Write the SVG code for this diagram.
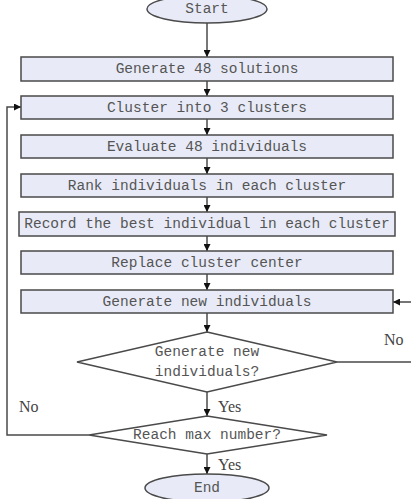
<svg xmlns="http://www.w3.org/2000/svg" width="411" height="499" viewBox="0 0 411 499">
<defs>
<style>
.n{fill:#e8ebf7;stroke:#4a4a4a;stroke-width:1.5}
.t{font-family:"Liberation Mono",monospace;font-size:14.5px;fill:#555;text-anchor:middle;dominant-baseline:central}
.l{font-family:"Liberation Serif",serif;font-size:16px;fill:#444;dominant-baseline:central}
.c{fill:none;stroke:#4a4a4a;stroke-width:1.5}
</style>
<marker id="a" viewBox="0 0 10 10" refX="10" refY="5" markerWidth="7" markerHeight="7" markerUnits="userSpaceOnUse" orient="auto"><path d="M0,0L10,5L0,10z" fill="#111"/></marker>
</defs>
<g id="connectors">
<path class="c" d="M207,23V57" marker-end="url(#a)"/>
<path class="c" d="M207,81V96" marker-end="url(#a)"/>
<path class="c" d="M207,119V135" marker-end="url(#a)"/>
<path class="c" d="M207,158V174" marker-end="url(#a)"/>
<path class="c" d="M207,197V212" marker-end="url(#a)"/>
<path class="c" d="M207,236V251" marker-end="url(#a)"/>
<path class="c" d="M207,274V290" marker-end="url(#a)"/>
<path class="c" d="M207,313V332" marker-end="url(#a)"/>
<path class="c" d="M207,392V416" marker-end="url(#a)"/>
<path class="c" d="M207,454V474" marker-end="url(#a)"/>
<path class="c" d="M89,435H7V107H21" marker-end="url(#a)"/>
<path class="c" d="M337,362H420V302H393" marker-end="url(#a)"/>
</g>
<g id="start"><ellipse class="n" cx="207" cy="9" rx="60" ry="14"/><text class="t" x="207" y="9">Start</text></g>
<g id="gen48"><rect class="n" x="21" y="57" width="372" height="24"/><text class="t" x="207" y="69">Generate 48 solutions</text></g>
<g id="cluster"><rect class="n" x="21" y="96" width="372" height="23"/><text class="t" x="207" y="107.5">Cluster into 3 clusters</text></g>
<g id="evaluate"><rect class="n" x="21" y="135" width="372" height="23"/><text class="t" x="207" y="146.5">Evaluate 48 individuals</text></g>
<g id="rank"><rect class="n" x="21" y="174" width="372" height="23"/><text class="t" x="207" y="185.5">Rank individuals in each cluster</text></g>
<g id="record"><rect class="n" x="19" y="212" width="376" height="24"/><text class="t" x="207" y="224">Record the best individual in each cluster</text></g>
<g id="replace"><rect class="n" x="21" y="251" width="372" height="23"/><text class="t" x="207" y="262.5">Replace cluster center</text></g>
<g id="gennew"><rect class="n" x="21" y="290" width="372" height="23"/><text class="t" x="207" y="301.5">Generate new individuals</text></g>
<g id="dec1"><polygon points="207,332 337,362 207,392 77,362" fill="#fff" stroke="#4a4a4a" stroke-width="1.5"/><text class="t" x="207" y="352">Generate new</text><text class="t" x="207" y="372">individuals?</text></g>
<g id="dec2"><polygon points="207,416 327,435 207,454 89,435" fill="#fff" stroke="#4a4a4a" stroke-width="1.5"/><text class="t" x="207" y="435">Reach max number?</text></g>
<g id="end"><ellipse class="n" cx="207" cy="488" rx="62" ry="14"/><text class="t" x="207" y="488">End</text></g>
<g id="labels">
<text class="l" x="218" y="406">Yes</text>
<text class="l" x="218" y="464">Yes</text>
<text class="l" x="19" y="406">No</text>
<text class="l" x="384" y="339">No</text>
</g>
</svg>
